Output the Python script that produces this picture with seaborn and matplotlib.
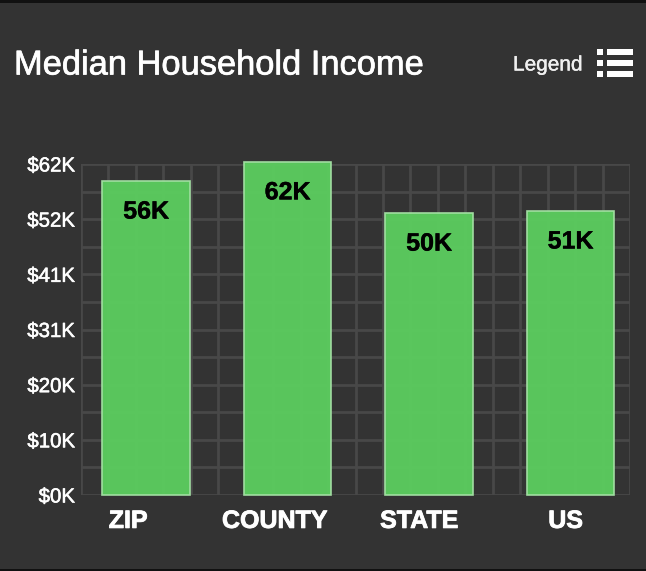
#!/usr/bin/env python3
"""
Median household income bar chart, dark card style
"""

import numpy as np
import pandas as pd
import matplotlib
matplotlib.use("Agg")
import matplotlib.pyplot as plt
import matplotlib.patheffects as pe
from matplotlib.patches import Rectangle
from matplotlib.transforms import ScaledTranslation
import seaborn as sns

# data
categories = ["ZIP", "COUNTY", "STATE", "US"]
bar_heights = [58.8, 62.4, 52.8, 53.2]  # bars sit a bit above their printed label
bar_labels = ["56K", "62K", "50K", "51K"]
y_ticks = [0, 10.33, 20.67, 31, 41.33, 51.67, 62]
y_tick_labels = ["$0K", "$10K", "$20K", "$31K", "$41K", "$52K", "$62K"]

# style
BG = "#333333"
GRID = "#484848"
GREEN = "#5bcb5e"
EDGE = "#a3dfa3"
W, H = 646, 571

sns.set_theme(style="dark")
plt.rcParams["font.family"] = ["Liberation Sans", "DejaVu Sans"]


def px_rect(fig, x0, y0, x1, y1, color):
    # rectangle given in image pixels, y going down
    fig.add_artist(Rectangle((x0 / W, 1 - y1 / H), (x1 - x0) / W, (y1 - y0) / H,
                             transform=fig.transFigure, facecolor=color,
                             edgecolor="none"))


def heavier(text, width=0.5):
    # the screenshot text is a bit blurred and looks heavier than the plain font
    text.set_path_effects([pe.withStroke(linewidth=width, foreground=text.get_color())])


fig = plt.figure(figsize=(W / 100, H / 100), dpi=100, facecolor=BG)
ax = fig.add_axes([81 / W, 1 - 495 / H, (630 - 81) / W, (495 - 164) / H], facecolor=BG)

df = pd.DataFrame({"area": categories, "income": bar_heights})
sns.barplot(data=df, x="area", y="income", ax=ax, color=GREEN, saturation=1,
            width=0.618, edgecolor=EDGE, linewidth=1.2, alpha=0.97, zorder=3)
for bar in ax.patches:
    bar.set_clip_on(False)  # county bar pokes over the top grid line

ax.set_xlim(-0.46, 3.42)
ax.set_ylim(0, 62)
ax.set_xlabel("")
ax.set_ylabel("")

# grid is finer than the labelled ticks
ax.xaxis.remove_overlapping_locs = False
ax.yaxis.remove_overlapping_locs = False
ax.set_xticks(np.linspace(-0.46, 3.42, 21), minor=True)
ax.set_yticks(np.linspace(0, 62, 13), minor=True)
ax.grid(which="minor", color=GRID, linewidth=2.0, zorder=0)
ax.grid(which="major", visible=False)
ax.tick_params(which="both", length=0)
for side in ax.spines.values():
    side.set_visible(False)

ax.set_yticks(y_ticks)
ax.set_yticklabels(y_tick_labels, color="white", fontsize=14.7)
ax.tick_params(axis="y", pad=4.5)
for lab in ax.get_yticklabels():
    heavier(lab, 0.4)

ax.set_xticks(range(len(categories)))
ax.set_xticklabels(categories, color="white", fontsize=18, fontweight="bold")
ax.tick_params(axis="x", pad=10)

# x labels are not centred under their bars in the original
label_shift = [-18, -13, -10, -5]
for lab, dx in zip(ax.get_xticklabels(), label_shift):
    lab.set_transform(lab.get_transform() + ScaledTranslation(dx / 100, 0, fig.dpi_scale_trans))
    heavier(lab, 0.6)

for i, (h, txt) in enumerate(zip(bar_heights, bar_labels)):
    t = ax.annotate(txt, xy=(i, h), xytext=(0, -30.5 * 0.72), textcoords="offset points",
                    ha="center", va="center", color="black", fontsize=18,
                    fontweight="bold", zorder=5, annotation_clip=False)
    heavier(t, 0.3)

title = fig.text(14 / W, 1 - 66 / H, "Median Household Income", color="white",
                 fontsize=24.8, va="center", ha="left")
heavier(title, 0.5)
legend_text = fig.text(513 / W, 1 - 65 / H, "Legend", color="#f0f0f0", fontsize=15,
                       va="center", ha="left")
heavier(legend_text, 0.3)

# legend icon
for y0 in [49, 60, 71]:
    px_rect(fig, 597, y0, 603, y0 + 6, "white")
    px_rect(fig, 607, y0, 633, y0 + 6, "white")

# dark strips at the screenshot edges
px_rect(fig, 0, 0, W, 2.5, "#111111")
px_rect(fig, 0, 569, W, H, "#111111")

fig.savefig("out.png", dpi=100, facecolor=fig.get_facecolor())
